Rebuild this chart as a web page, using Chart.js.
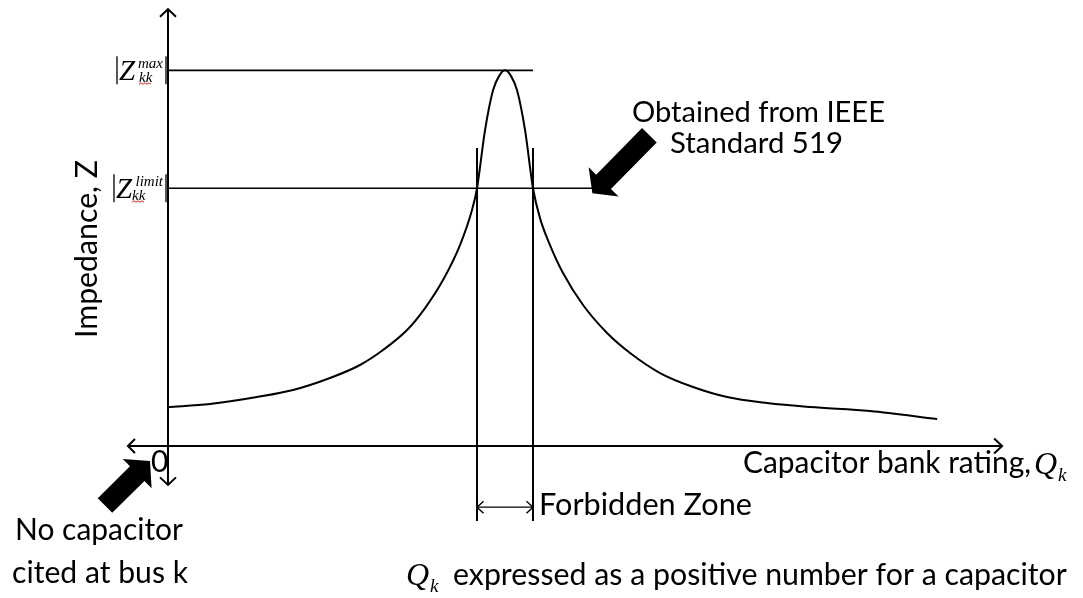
<!DOCTYPE html>
<html>
<head>
<meta charset="utf-8">
<script src="https://cdn.jsdelivr.net/npm/chart.js"></script>
<style>
  html, body { margin: 0; padding: 0; background: #ffffff; }
  #wrap { width: 1083px; height: 598px; position: relative; }
  canvas { display: block; }
</style>
</head>
<body>
<div id="wrap"><canvas id="chart" width="1083" height="598"></canvas></div>
<script>
// Capacitor bank rating (arbitrary units) and bus impedance magnitude along the curve
const ratingQ = [0, 0.504, 1.067, 1.499, 1.942, 2.302, 2.578, 2.866, 3.082, 3.297, 3.501, 3.645, 3.705,
                 3.801, 3.897, 3.969, 4.041, 4.113, 4.185, 4.281, 4.376, 4.46, 4.58, 4.736, 4.976, 5.264,
                 5.54, 5.899, 6.295, 6.703, 7.182, 7.698, 8.417, 9.221];
const impedanceZ = [0.892, 0.961, 1.121, 1.281, 1.556, 1.854, 2.197, 2.654, 3.158, 3.799, 4.6, 5.4, 5.9,
                    7.231, 8.146, 8.467, 8.6, 8.467, 8.146, 7.231, 5.9, 5.217, 4.6, 3.959, 3.227, 2.586,
                    2.128, 1.67, 1.35, 1.121, 0.984, 0.892, 0.801, 0.618];

// Reference levels
const zMax = 8.6;          // |Zkk max|, the resonance peak
const zLimit = 5.9;        // |Zkk limit| from IEEE 519
const qLow = 3.705;        // forbidden zone start
const qHigh = 4.376;       // forbidden zone end
const limitLineEnd = 5.1;

// Axis extents (arrow tips)
const qAxis = [-0.48, 10];
const zAxis = [-0.89, 10];
// Forbidden-zone guide lines
const guideTop = 6.82;
const guideBottom = -1.72;
const zoneArrowZ = -1.4;

const line = (pts) => ({
  data: pts, showLine: true, borderColor: '#000', borderWidth: 2,
  pointRadius: 0, fill: false, tension: 0
});

const curve = ratingQ.map((q, i) => ({ x: q, y: impedanceZ[i] }));

const datasets = [
  Object.assign(line(curve), { cubicInterpolationMode: 'monotone', borderWidth: 2 }),
  line([{ x: 0, y: zAxis[0] }, { x: 0, y: zAxis[1] }]),
  line([{ x: qAxis[0], y: 0 }, { x: qAxis[1], y: 0 }]),
  Object.assign(line([{ x: 0, y: zMax }, { x: qHigh, y: zMax }]), { borderWidth: 1.6 }),
  Object.assign(line([{ x: 0, y: zLimit }, { x: limitLineEnd, y: zLimit }]), { borderWidth: 1.6 }),
  line([{ x: qLow, y: guideTop }, { x: qLow, y: guideBottom }]),
  line([{ x: qHigh, y: guideTop }, { x: qHigh, y: guideBottom }]),
  Object.assign(line([{ x: qLow, y: zoneArrowZ }, { x: qHigh, y: zoneArrowZ }]), { borderWidth: 1.4 })
];

const SANS = 'Lato, "Open Sans", sans-serif';
const SERIF = '"Liberation Serif", "DejaVu Serif", serif';

function chevron(ctx, x, y, ax, ay, bx, by, w) {
  ctx.save();
  ctx.lineWidth = w;
  ctx.strokeStyle = '#000';
  ctx.beginPath();
  ctx.moveTo(x + ax, y + ay);
  ctx.lineTo(x, y);
  ctx.lineTo(x + bx, y + by);
  ctx.stroke();
  ctx.restore();
}

// Block arrow: tip at (tx,ty), tail centre at (tx+dx, ty+dy)
function blockArrow(ctx, tx, ty, dx, dy, head, headHalf, shaftHalf) {
  const len = Math.hypot(dx, dy);
  const ux = dx / len, uy = dy / len;
  const px = -uy, py = ux;
  const bx = tx + ux * head, by = ty + uy * head;
  const ex = tx + dx, ey = ty + dy;
  ctx.save();
  ctx.fillStyle = '#000';
  ctx.beginPath();
  ctx.moveTo(tx, ty);
  ctx.lineTo(bx + px * headHalf, by + py * headHalf);
  ctx.lineTo(bx + px * shaftHalf, by + py * shaftHalf);
  ctx.lineTo(ex + px * shaftHalf, ey + py * shaftHalf);
  ctx.lineTo(ex - px * shaftHalf, ey - py * shaftHalf);
  ctx.lineTo(bx - px * shaftHalf, by - py * shaftHalf);
  ctx.lineTo(bx - px * headHalf, by - py * headHalf);
  ctx.closePath();
  ctx.fill();
  ctx.restore();
}

function squiggle(ctx, x0, x1, y) {
  ctx.save();
  ctx.strokeStyle = '#d02020';
  ctx.lineWidth = 1;
  ctx.beginPath();
  let up = true;
  ctx.moveTo(x0, y);
  for (let x = x0 + 2; x <= x1; x += 2) {
    ctx.lineTo(x, up ? y - 1.5 : y);
    up = !up;
  }
  ctx.stroke();
  ctx.restore();
}

// Sets a font so that `text` spans `width` pixels
function fitFont(ctx, text, width, family, style) {
  const pre = style ? style + ' ' : '';
  ctx.font = pre + '100px ' + family;
  const size = 100 * width / ctx.measureText(text).width;
  ctx.font = pre + size.toFixed(2) + 'px ' + family;
  return size;
}

function zLabel(ctx, right, midY, sup, barL, kkX) {
  // |Z_kk^sup| label left of the vertical axis
  ctx.save();
  ctx.strokeStyle = '#000';
  ctx.lineWidth = 1.3;
  ctx.beginPath();
  ctx.moveTo(barL, midY - 14); ctx.lineTo(barL, midY + 14);
  ctx.moveTo(right, midY - 14); ctx.lineTo(right, midY + 14);
  ctx.stroke();
  ctx.fillStyle = '#000';
  ctx.textBaseline = 'alphabetic';
  ctx.textAlign = 'left';
  ctx.font = 'italic 29px ' + SERIF;
  ctx.fillText('Z', barL + 2, midY + 10);
  ctx.font = 'italic 15px ' + SERIF;
  const supW = ctx.measureText(sup).width;
  ctx.fillText(sup, right - 3 - supW, midY - 2);
  ctx.fillText('kk', kkX, midY + 12);
  const kkW = ctx.measureText('kk').width;
  ctx.restore();
  squiggle(ctx, kkX, kkX + kkW, midY + 14);
}

const annotations = {
  id: 'annotations',
  afterDatasetsDraw(chart) {
    const ctx = chart.ctx;
    const xs = chart.scales.x, ys = chart.scales.y;
    const X = v => xs.getPixelForValue(v);
    const Y = v => ys.getPixelForValue(v);
    const ox = X(0), oy = Y(0);

    // axis arrowheads
    chevron(ctx, ox, Y(zAxis[1]), -8, 7.5, 8, 7.5, 2);
    chevron(ctx, ox, Y(zAxis[0]), -8, -7.5, 8, -7.5, 2);
    chevron(ctx, X(qAxis[0]), oy, 7, -7, 7, 7, 2);
    chevron(ctx, X(qAxis[1]), oy, -8, -7.5, -8, 7.5, 2);
    // forbidden zone double arrow
    chevron(ctx, X(qLow), Y(zoneArrowZ), 6.5, -6, 6.5, 6, 1.4);
    chevron(ctx, X(qHigh), Y(zoneArrowZ), -6.5, -6, -6.5, 6, 1.4);

    // pointer arrows
    blockArrow(ctx, X(limitLineEnd) - 1, Y(zLimit) + 5, 57, -58, 16, 21, 10.3);
    blockArrow(ctx, ox - 18, oy + 15, -45, 44.5, 18, 20.5, 10.3);

    // |Z| tick labels
    zLabel(ctx, ox - 2, Y(zMax), 'max', ox - 51, ox - 29);
    zLabel(ctx, ox - 2, Y(zLimit), 'limit', ox - 54, ox - 36);

    ctx.save();
    ctx.fillStyle = '#000';
    ctx.textBaseline = 'alphabetic';

    // vertical axis title
    ctx.save();
    ctx.translate(ox - 71, 338);
    ctx.rotate(-Math.PI / 2);
    ctx.textAlign = 'left';
    fitFont(ctx, 'Impedance, Z', 178, SANS);
    ctx.fillText('Impedance, Z', 0, 0);
    ctx.restore();

    ctx.textAlign = 'left';
    const base = fitFont(ctx, 'Capacitor bank rating,', 288, SANS);
    ctx.fillText('Capacitor bank rating,', 743, 473);

    ctx.font = base.toFixed(2) + 'px ' + SANS;
    ctx.fillText('0', ox - 17, oy + 26);

    fitFont(ctx, 'Obtained from IEEE', 253, SANS);
    ctx.fillText('Obtained from IEEE', 632, 122);
    fitFont(ctx, 'Standard 519', 173, SANS);
    ctx.fillText('Standard 519', 670, 153);

    fitFont(ctx, 'Forbidden Zone', 213, SANS);
    ctx.fillText('Forbidden Zone', X(qHigh) + 6, Y(zoneArrowZ) + 8);

    ctx.font = 'italic 32px ' + SERIF;
    ctx.fillText('Q', 1034, 474);
    ctx.font = 'italic 19px ' + SERIF;
    ctx.fillText('k', 1058, 481);

    ctx.textAlign = 'right';
    fitFont(ctx, 'No capacitor', 168, SANS);
    ctx.fillText('No capacitor', 183, 540);
    fitFont(ctx, 'cited at bus k', 176, SANS);
    ctx.fillText('cited at bus k', 188, 583);

    ctx.textAlign = 'left';
    ctx.font = 'italic 32px ' + SERIF;
    ctx.fillText('Q', 406, 585);
    ctx.font = 'italic 19px ' + SERIF;
    ctx.fillText('k', 430, 592);
    fitFont(ctx, 'expressed as a positive number for a capacitor', 614, SANS);
    ctx.fillText('expressed as a positive number for a capacitor', 453, 585);
    ctx.restore();
  }
};

new Chart(document.getElementById('chart'), {
  type: 'scatter',
  data: { datasets },
  options: {
    responsive: false,
    animation: false,
    events: [],
    layout: { padding: 0 },
    plugins: { legend: { display: false }, tooltip: { enabled: false } },
    scales: {
      x: { type: 'linear', min: -2.014, max: 10.97, display: false },
      y: { type: 'linear', min: -3.48, max: 10.21, display: false }
    },
    elements: { line: { borderCapStyle: 'butt' } }
  },
  plugins: [annotations]
});
</script>
</body>
</html>
